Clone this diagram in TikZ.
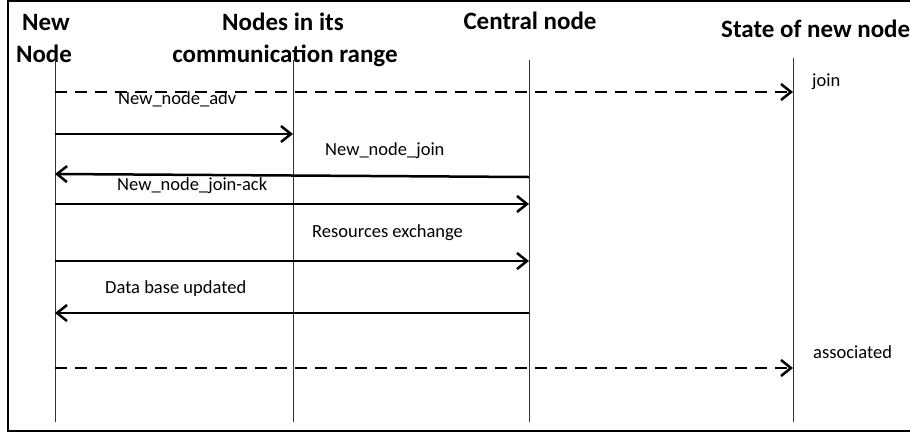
\documentclass[tikz,border=0pt]{standalone}
\usepackage{fontspec}
\setmainfont{Carlito}
\usetikzlibrary{arrows.meta}
\tikzset{
  head/.style={font=\fontsize{25}{30}\selectfont\bfseries, inner sep=0pt, anchor=base},
  msglabel/.style={font=\fontsize{18.5}{22}\selectfont, inner sep=0pt, anchor=base west},
  lifeline/.style={draw=black!80, line width=1pt},
  msg/.style={line width=2.5pt, -{Straight Barb[length=10pt,width=16pt,line width=2.5pt]}},
  statemsg/.style={msg, dash pattern=on 12pt off 8pt},
  frameline/.style={line width=2.5pt}
}
\begin{document}
\begin{tikzpicture}[x=1pt,y=-1pt]
\useasboundingbox (0,0) rectangle (910,432);

% frame (open on the right)
\draw[frameline] (910,1.2) -- (8,1.2) -- (8,430.8) -- (910,430.8);

% column headings
\node[head] (h1a) at (46,30) {New};
\node[head] (h1b) at (44,62) {Node};
\node[head] (h2a) at (283,30) {Nodes in its};
\node[head] (h2b) at (285,62) {communication range};
\node[head] (h3)  at (530,29) {Central node};
\node[head, anchor=base west] (h4) at (721,37) {State of new node};

% lifelines
\coordinate (t1) at (55,60);  \coordinate (b1) at (55,422);
\coordinate (t2) at (293,60); \coordinate (b2) at (293,422);
\coordinate (t3) at (529,60); \coordinate (b3) at (529,422);
\coordinate (t4) at (793,58); \coordinate (b4) at (793,422);
\foreach \i in {1,...,4} \draw[lifeline] (t\i) -- (b\i);

% message end points on the lifelines
\coordinate (s1a) at (55,92);   \coordinate (s1b) at (793,92);
\coordinate (m1a) at (55,134);  \coordinate (m1b) at (293,134);
\coordinate (m2a) at (529,177); \coordinate (m2b) at (55,174);
\coordinate (m3a) at (55,204);  \coordinate (m3b) at (529,204);
\coordinate (m4a) at (55,261);  \coordinate (m4b) at (529,261);
\coordinate (m5a) at (529,313); \coordinate (m5b) at (55,313);
\coordinate (s2a) at (55,368);  \coordinate (s2b) at (793,368);

% messages
\draw[statemsg] (s1a) -- (s1b);
\draw[msg] (m1a) -- (m1b);
\draw[msg] (m2a) -- (m2b);
\draw[msg] (m3a) -- (m3b);
\draw[msg] (m4a) -- (m4b);
\draw[msg] (m5a) -- (m5b);
\draw[statemsg] (s2a) -- (s2b);

% labels
\node[msglabel] (lj)  at (812,86)  {join};
\node[msglabel] (l1)  at (118,104) {New\_node\_adv};
\node[msglabel] (l2)  at (325,155) {New\_node\_join};
\node[msglabel] (l3)  at (117,190) {New\_node\_join-ack};
\node[msglabel] (l4)  at (312,237) {Resources exchange};
\node[msglabel] (l5)  at (105,293) {Data base updated};
\node[msglabel] (la)  at (813,358) {associated};
\end{tikzpicture}
\end{document}
